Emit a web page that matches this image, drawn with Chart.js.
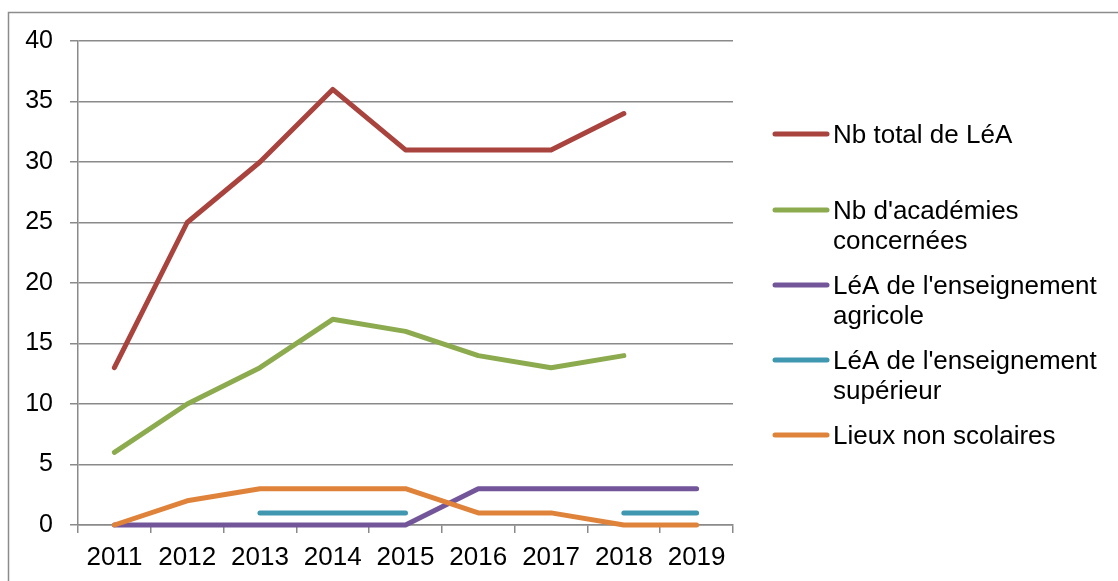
<!DOCTYPE html>
<html>
<head>
<meta charset="utf-8">
<script src="https://cdn.jsdelivr.net/npm/chart.js@4"></script>
<style>
  html, body { margin: 0; padding: 0; background: #fff; }
  #wrap { width: 1118px; height: 581px; position: relative; }
</style>
</head>
<body>
<div id="wrap"><canvas id="chart1"></canvas></div>
<script>
const years = ["2011", "2012", "2013", "2014", "2015", "2016", "2017", "2018", "2019"];

const totalLea = [13, 25, 30, 36, 31, 31, 31, 34, null];
const academies = [6, 10, 13, 17, 16, 14, 13, 14, null];
const leaAgricole = [0, 0, 0, 0, 0, 3, 3, 3, 3];
const leaSuperieur = [null, null, 1, 1, 1, null, null, 1, 1];
const lieuxNonScolaires = [0, 2, 3, 3, 3, 1, 1, 0, 0];

const seriesNames = [
  ["Nb total de LéA"],
  ["Nb d'académies", "concernées"],
  ["LéA de l'enseignement", "agricole"],
  ["LéA de l'enseignement", "supérieur"],
  ["Lieux non scolaires"]
];
const colors = ["#A9433E", "#8CAB4E", "#73569A", "#3F98AF", "#E0833A"];

const yTicks = [0, 5, 10, 15, 20, 25, 30, 35, 40];

const gridColor = "#8a8a8a";
const font = "Liberation Sans, Arial, sans-serif";

// legend drawn by hand so the wrapped labels sit like the original
const sideLegend = {
  id: "sideLegend",
  afterDraw(chart) {
    const ctx = chart.ctx;
    const rows = [134, 210, 285, 360, 435];
    ctx.save();
    ctx.font = "26px " + font;
    ctx.textBaseline = "middle";
    ctx.fillStyle = "#000";
    seriesNames.forEach((lines, i) => {
      const y = rows[i];
      ctx.strokeStyle = colors[i];
      ctx.lineWidth = 5;
      ctx.lineCap = "round";
      ctx.beginPath();
      ctx.moveTo(775, y);
      ctx.lineTo(827, y);
      ctx.stroke();
      lines.forEach((t, k) => ctx.fillText(t, 833, y + 2 + k * 30));
    });
    ctx.restore();
  }
};

const frame = {
  id: "frame",
  beforeDraw(chart) {
    const ctx = chart.ctx;
    ctx.save();
    ctx.strokeStyle = "#8c8c8c";
    ctx.lineWidth = 1.5;
    ctx.strokeRect(8.5, 12.5, 1200, 700);
    ctx.restore();
  }
};

const allSeries = [totalLea, academies, leaAgricole, leaSuperieur, lieuxNonScolaires];

const ctx = document.getElementById("chart1").getContext("2d");
const myChart = new Chart(ctx, {
  type: "line",
  data: {
    labels: years,
    datasets: allSeries.map((d, i) => ({
      label: seriesNames[i].join(" "),
      data: d,
      borderColor: colors[i],
      backgroundColor: colors[i],
      borderWidth: 5,
      borderCapStyle: "round",
      borderJoinStyle: "round",
      pointRadius: 0,
      tension: 0,
      clip: false,
      order: allSeries.length - i
    }))
  },
  options: {
    responsive: true,
    maintainAspectRatio: false,
    animation: false,
    layout: {
      padding: { left: 0, top: 41, right: 385, bottom: 0 }
    },
    plugins: {
      legend: { display: false },
      tooltip: { enabled: false }
    },
    scales: {
      x: {
        offset: true,
        grid: {
          offset: true,
          drawOnChartArea: false,
          color: gridColor,
          tickLength: 8,
          lineWidth: 1.5
        },
        border: { color: gridColor, width: 1.5 },
        ticks: {
          color: "#000",
          font: { family: font, size: 26 },
          padding: 9,
          maxRotation: 0,
          autoSkip: false
        },
        afterFit(scale) { scale.height = 56; }
      },
      y: {
        min: 0,
        max: 40,
        afterBuildTicks(scale) { scale.ticks = yTicks.map(v => ({ value: v })); },
        grid: {
          color: gridColor,
          tickLength: 8,
          lineWidth: 1.5
        },
        border: { color: gridColor, width: 1.5 },
        ticks: {
          color: "#000",
          font: { family: font, size: 25 },
          padding: 17
        },
        afterFit(scale) { scale.width = 78; }
      }
    }
  },
  plugins: [frame, sideLegend]
});
</script>
</body>
</html>
